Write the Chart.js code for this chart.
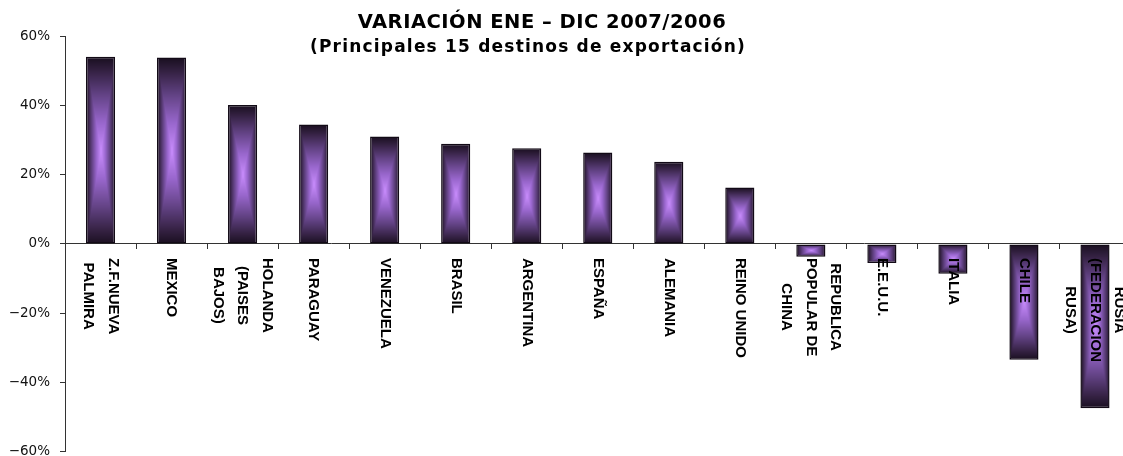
<!DOCTYPE html>
<html>
<head>
<meta charset="utf-8">
<script src="https://cdn.jsdelivr.net/npm/chart.js@4.4.1/dist/chart.umd.min.js"></script>
<style>
  html, body { margin: 0; padding: 0; background: #ffffff; overflow: hidden; width: 1123px; height: 456px; }
  #wrap { position: absolute; left: 0; top: 0; width: 1140px; height: 470px; }
</style>
</head>
<body>
<div id="wrap"><canvas id="c"></canvas></div>
<script>
// ---- data ----
const titleLines = ['VARIACIÓN ENE – DIC 2007/2006', '(Principales 15 destinos de exportación)'];
const categories = [
  ['Z.F.NUEVA', 'PALMIRA'],
  ['MEXICO'],
  ['HOLANDA', '(PAISES', 'BAJOS)'],
  ['PARAGUAY'],
  ['VENEZUELA'],
  ['BRASIL'],
  ['ARGENTINA'],
  ['ESPAÑA'],
  ['ALEMANIA'],
  ['REINO UNIDO'],
  ['REPUBLICA', 'POPULAR DE', 'CHINA'],
  ['E.E.U.U.'],
  ['ITALIA'],
  ['CHILE'],
  ['RUSIA', '(FEDERACION', 'RUSA)']
];
const values = [54.0, 53.8, 40.1, 34.5, 31.0, 28.9, 27.6, 26.4, 23.7, 16.3, -3.7, -5.5, -8.6, -33.4, -47.4];
const yTickValues = [-60, -40, -20, 0, 20, 40, 60];

// ---- styling helpers ----
const BAR_PCT = 0.41;
const rampStops = [
  [0.00, [200, 140, 252]],
  [0.30, [152, 102, 204]],
  [0.60, [98, 66, 132]],
  [0.85, [52, 33, 66]],
  [1.00, [24, 14, 30]]
];
function ramp(t) {
  for (let i = 1; i < rampStops.length; i++) {
    if (t <= rampStops[i][0]) {
      const a = rampStops[i - 1], b = rampStops[i];
      const f = (t - a[0]) / (b[0] - a[0]);
      return [0, 1, 2].map(k => a[1][k] + (b[1][k] - a[1][k]) * f);
    }
  }
  return rampStops[rampStops.length - 1][1];
}
const patCache = {};
function barFill(chartCtx, left, top, w, h) {
  const W = Math.max(1, Math.ceil(w)), H = Math.max(1, Math.ceil(h));
  const key = W + 'x' + H;
  let off = patCache[key];
  if (!off) {
    off = document.createElement('canvas');
    off.width = W; off.height = H;
    const g = off.getContext('2d');
    const img = g.createImageData(W, H);
    for (let y = 0; y < H; y++) {
      for (let x = 0; x < W; x++) {
        const dx = Math.abs(x + 0.5 - W / 2) / (W / 2);
        const dy = Math.abs(y + 0.5 - H / 2) / (H / 2);
        const c = ramp(Math.min(1, Math.max(dx, dy)));
        const p = (y * W + x) * 4;
        img.data[p] = c[0]; img.data[p + 1] = c[1]; img.data[p + 2] = c[2]; img.data[p + 3] = 255;
      }
    }
    g.putImageData(img, 0, 0);
    patCache[key] = off;
  }
  const pat = chartCtx.createPattern(off, 'no-repeat');
  pat.setTransform(new DOMMatrix([1, 0, 0, 1, left, top]));
  return pat;
}

const titlePlugin = {
  id: 'titleText',
  afterDraw(chart) {
    const ctx = chart.ctx;
    ctx.save();
    ctx.fillStyle = '#000';
    ctx.textAlign = 'center';
    ctx.textBaseline = 'middle';
    ctx.font = 'bold 19.5px "DejaVu Sans"';
    ctx.letterSpacing = '0.5px';
    ctx.fillText(titleLines[0], 542, 23);
    ctx.font = 'bold 17px "DejaVu Sans"';
    ctx.letterSpacing = '1.2px';
    ctx.fillText(titleLines[1], 528, 48);
    ctx.restore();
  }
};

const labelPlugin = {
  id: 'catLabels',
  afterDatasetsDraw(chart) {
    const ctx = chart.ctx;
    const xs = chart.scales.x, ys = chart.scales.y;
    const top = ys.getPixelForValue(0) + 14;
    const gap = 24.5;
    ctx.save();
    ctx.fillStyle = '#000';
    ctx.font = 'bold 15px "Liberation Sans"';
    ctx.textAlign = 'center';
    ctx.textBaseline = 'middle';
    categories.forEach((lines, i) => {
      const x = xs.getPixelForValue(i);
      const maxW = Math.max(...lines.map(l => ctx.measureText(l).width));
      const n = lines.length;
      lines.forEach((line, j) => {
        ctx.save();
        ctx.translate(x, top);
        ctx.rotate(Math.PI / 2);
        ctx.fillText(line, maxW / 2, -((n - 1) / 2 - j) * gap);
        ctx.restore();
      });
    });
    ctx.restore();
  }
};

new Chart(document.getElementById('c'), {
  type: 'bar',
  data: {
    labels: categories,
    datasets: [{
      data: values,
      backgroundColor: (c) => {
        const chart = c.chart;
        const xs = chart.scales.x, ys = chart.scales.y;
        if (!xs || !ys || c.dataIndex === undefined) return '#8a63b5';
        const v = values[c.dataIndex];
        const cx = xs.getPixelForValue(c.dataIndex);
        const w = (xs.width / categories.length) * BAR_PCT;
        const y0 = ys.getPixelForValue(0), y1 = ys.getPixelForValue(v);
        const top = Math.min(y0, y1), h = Math.abs(y1 - y0);
        if (!isFinite(cx) || !isFinite(top) || !(w > 1) || !(h > 0.5)) return '#8a63b5';
        return barFill(chart.ctx, cx - w / 2, top, w, h);
      },
      borderColor: '#120a16',
      borderWidth: 1.5,
      borderSkipped: false,
      barPercentage: BAR_PCT,
      categoryPercentage: 1.0
    }]
  },
  options: {
    responsive: true,
    maintainAspectRatio: false,
    animation: false,
    devicePixelRatio: 1,
    layout: { padding: { top: 36, bottom: 16, left: 0, right: 9.5 } },
    plugins: { legend: { display: false }, title: { display: false }, tooltip: { enabled: false } },
    scales: {
      x: {
        type: 'category',
        position: { y: 0 },
        ticks: { display: false },
        grid: { display: true, drawOnChartArea: false, drawTicks: true, tickLength: 5, offset: true, color: '#333', lineWidth: 1 },
        border: { display: true, color: '#333', width: 1 }
      },
      y: {
        min: yTickValues[0],
        max: yTickValues[yTickValues.length - 1],
        afterFit: (s) => { s.width = 65; },
        afterBuildTicks: (s) => { s.ticks = yTickValues.map(v => ({ value: v })); },
        ticks: {
          callback: (v) => (v < 0 ? '\u2212' + Math.abs(v) : v) + '%',
          color: '#111',
          font: { family: '"DejaVu Sans"', size: 13.5 },
          padding: 10
        },
        grid: { display: true, drawOnChartArea: false, drawTicks: true, tickLength: 5, color: '#333', lineWidth: 1 },
        border: { display: true, color: '#333', width: 1 }
      }
    }
  },
  plugins: [titlePlugin, labelPlugin]
});
</script>
</body>
</html>
